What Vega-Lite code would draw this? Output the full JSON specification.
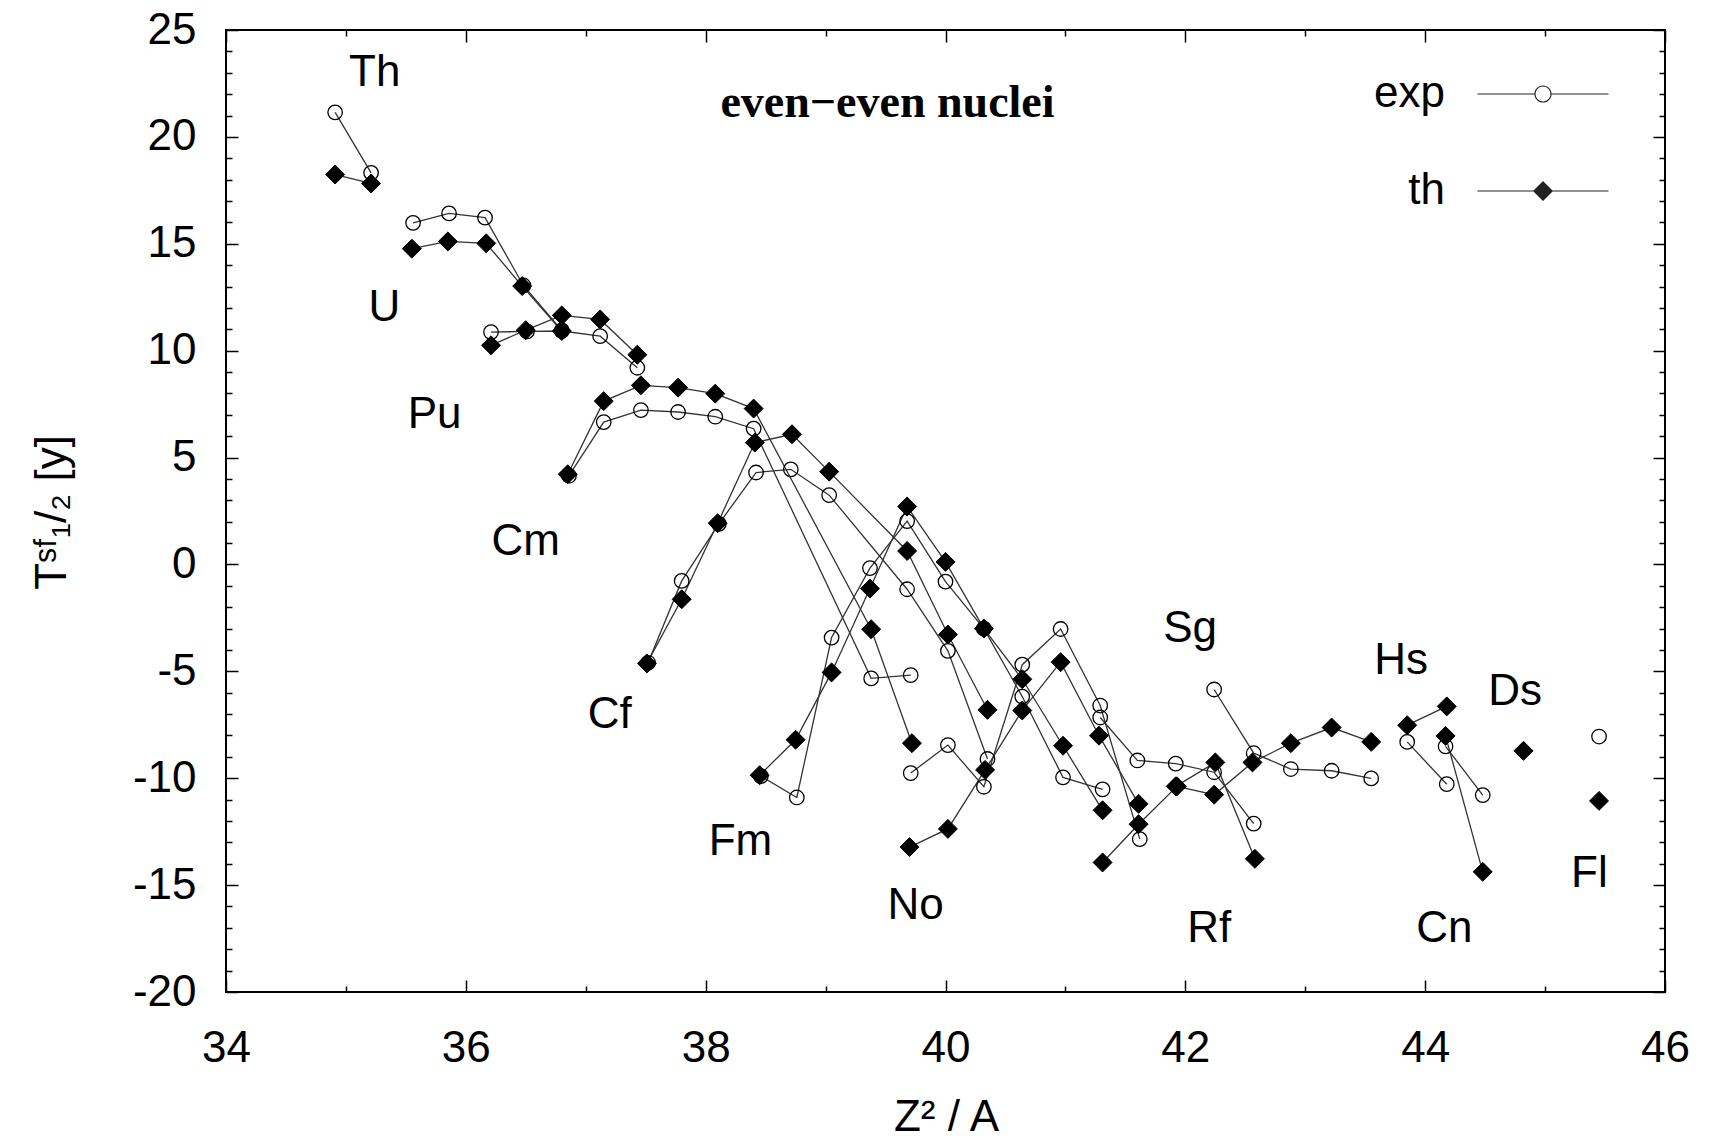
{
  "$schema": "https://vega.github.io/schema/vega-lite/v6.json",
  "width": 1439,
  "height": 962,
  "autosize": "none",
  "padding": {"left": 226, "top": 30, "right": 44, "bottom": 150},
  "background": "white",
  "title": {"text": "even−even nuclei", "font": "Liberation Serif", "fontWeight": "bold", "fontSize": 46, "color": "black", "anchor": "middle", "frame": "group", "baseline": "alphabetic", "offset": -87, "dx": -58, "dy": 68},
  "config": {
    "view": {"stroke": "black", "strokeWidth": 2},
    "axis": {"domain": false, "grid": false, "tickColor": "black", "tickWidth": 1.5, "labelFont": "Liberation Sans", "labelFontSize": 44, "labelColor": "black", "titleFont": "Liberation Sans", "titleFontSize": 44, "titleFontWeight": "normal", "titleColor": "black", "labelFlush": false, "labelOverlap": false}
  },
  "datasets": {
    "pts": [
      {"el":"Th","type":"exp","x":34.91,"y":21.15},{"el":"Th","type":"exp","x":35.21,"y":18.32},
      {"el":"U","type":"exp","x":35.56,"y":15.98},{"el":"U","type":"exp","x":35.86,"y":16.42},{"el":"U","type":"exp","x":36.16,"y":16.22},{"el":"U","type":"exp","x":36.48,"y":13.05},{"el":"U","type":"exp","x":36.80,"y":10.95},
      {"el":"Pu","type":"exp","x":36.21,"y":10.87},{"el":"Pu","type":"exp","x":36.51,"y":10.9},{"el":"Pu","type":"exp","x":36.80,"y":10.92},{"el":"Pu","type":"exp","x":37.12,"y":10.68},{"el":"Pu","type":"exp","x":37.43,"y":9.2},
      {"el":"Cm","type":"exp","x":36.86,"y":4.15},{"el":"Cm","type":"exp","x":37.15,"y":6.66},{"el":"Cm","type":"exp","x":37.46,"y":7.22},{"el":"Cm","type":"exp","x":37.77,"y":7.13},{"el":"Cm","type":"exp","x":38.08,"y":6.91},{"el":"Cm","type":"exp","x":38.40,"y":6.35},{"el":"Cm","type":"exp","x":39.38,"y":-5.33},{"el":"Cm","type":"exp","x":39.71,"y":-5.18},
      {"el":"Cf","type":"exp","x":37.52,"y":-4.6},{"el":"Cf","type":"exp","x":37.80,"y":-0.77},{"el":"Cf","type":"exp","x":38.11,"y":1.9},{"el":"Cf","type":"exp","x":38.42,"y":4.3},{"el":"Cf","type":"exp","x":38.71,"y":4.45},{"el":"Cf","type":"exp","x":39.03,"y":3.24},{"el":"Cf","type":"exp","x":39.68,"y":-1.16},{"el":"Cf","type":"exp","x":40.02,"y":-4.04},{"el":"Cf","type":"exp","x":40.35,"y":-9.1},
      {"el":"Fm","type":"exp","x":38.46,"y":-9.9},{"el":"Fm","type":"exp","x":38.76,"y":-10.9},{"el":"Fm","type":"exp","x":39.05,"y":-3.42},{"el":"Fm","type":"exp","x":39.37,"y":-0.17},{"el":"Fm","type":"exp","x":39.68,"y":2.03},{"el":"Fm","type":"exp","x":40.0,"y":-0.8},{"el":"Fm","type":"exp","x":40.32,"y":-3.0},{"el":"Fm","type":"exp","x":40.64,"y":-6.18},{"el":"Fm","type":"exp","x":40.98,"y":-9.96},{"el":"Fm","type":"exp","x":41.31,"y":-10.52},
      {"el":"No","type":"exp","x":39.71,"y":-9.76},{"el":"No","type":"exp","x":40.02,"y":-8.45},{"el":"No","type":"exp","x":40.32,"y":-10.4},{"el":"No","type":"exp","x":40.64,"y":-4.69},{"el":"No","type":"exp","x":40.96,"y":-3.02},{"el":"No","type":"exp","x":41.29,"y":-6.6},{"el":"No","type":"exp","x":41.62,"y":-12.85},
      {"el":"Rf","type":"exp","x":41.29,"y":-7.16},{"el":"Rf","type":"exp","x":41.60,"y":-9.17},{"el":"Rf","type":"exp","x":41.92,"y":-9.32},{"el":"Rf","type":"exp","x":42.24,"y":-9.72},{"el":"Rf","type":"exp","x":42.57,"y":-12.12},
      {"el":"Sg","type":"exp","x":42.24,"y":-5.85},{"el":"Sg","type":"exp","x":42.57,"y":-8.83},{"el":"Sg","type":"exp","x":42.88,"y":-9.57},{"el":"Sg","type":"exp","x":43.22,"y":-9.65},{"el":"Sg","type":"exp","x":43.55,"y":-10.01},
      {"el":"Hs","type":"exp","x":43.85,"y":-8.3},{"el":"Hs","type":"exp","x":44.18,"y":-10.28},
      {"el":"Cn","type":"exp","x":44.17,"y":-8.51},{"el":"Cn","type":"exp","x":44.48,"y":-10.79},
      {"el":"Fl","type":"exp","x":45.45,"y":-8.05},
      {"el":"Th","type":"th","x":34.91,"y":18.24},{"el":"Th","type":"th","x":35.21,"y":17.82},
      {"el":"U","type":"th","x":35.55,"y":14.77},{"el":"U","type":"th","x":35.85,"y":15.11},{"el":"U","type":"th","x":36.17,"y":15.02},{"el":"U","type":"th","x":36.47,"y":13.02},{"el":"U","type":"th","x":36.80,"y":10.92},
      {"el":"Pu","type":"th","x":36.21,"y":10.25},{"el":"Pu","type":"th","x":36.50,"y":10.96},{"el":"Pu","type":"th","x":36.80,"y":11.65},{"el":"Pu","type":"th","x":37.12,"y":11.46},{"el":"Pu","type":"th","x":37.43,"y":9.81},
      {"el":"Cm","type":"th","x":36.85,"y":4.22},{"el":"Cm","type":"th","x":37.15,"y":7.64},{"el":"Cm","type":"th","x":37.46,"y":8.38},{"el":"Cm","type":"th","x":37.77,"y":8.27},{"el":"Cm","type":"th","x":38.08,"y":7.99},{"el":"Cm","type":"th","x":38.40,"y":7.29},{"el":"Cm","type":"th","x":39.38,"y":-3.03},{"el":"Cm","type":"th","x":39.72,"y":-8.36},
      {"el":"Cf","type":"th","x":37.51,"y":-4.63},{"el":"Cf","type":"th","x":37.80,"y":-1.63},{"el":"Cf","type":"th","x":38.10,"y":1.93},{"el":"Cf","type":"th","x":38.41,"y":5.7},{"el":"Cf","type":"th","x":38.72,"y":6.09},{"el":"Cf","type":"th","x":39.03,"y":4.34},{"el":"Cf","type":"th","x":39.68,"y":0.63},{"el":"Cf","type":"th","x":40.02,"y":-3.28},{"el":"Cf","type":"th","x":40.35,"y":-6.8},
      {"el":"Fm","type":"th","x":38.45,"y":-9.86},{"el":"Fm","type":"th","x":38.75,"y":-8.2},{"el":"Fm","type":"th","x":39.05,"y":-5.05},{"el":"Fm","type":"th","x":39.37,"y":-1.13},{"el":"Fm","type":"th","x":39.68,"y":2.71},{"el":"Fm","type":"th","x":40.0,"y":0.12},{"el":"Fm","type":"th","x":40.32,"y":-3.0},{"el":"Fm","type":"th","x":40.64,"y":-5.37},{"el":"Fm","type":"th","x":40.98,"y":-8.48},{"el":"Fm","type":"th","x":41.31,"y":-11.5},
      {"el":"No","type":"th","x":39.70,"y":-13.22},{"el":"No","type":"th","x":40.02,"y":-12.37},{"el":"No","type":"th","x":40.33,"y":-9.61},{"el":"No","type":"th","x":40.64,"y":-6.83},{"el":"No","type":"th","x":40.96,"y":-4.57},{"el":"No","type":"th","x":41.28,"y":-8.01},{"el":"No","type":"th","x":41.61,"y":-11.2},
      {"el":"Rf","type":"th","x":41.92,"y":-10.38},{"el":"Rf","type":"th","x":42.25,"y":-9.26},{"el":"Rf","type":"th","x":42.58,"y":-13.77},
      {"el":"Sg","type":"th","x":41.31,"y":-13.94},{"el":"Sg","type":"th","x":41.61,"y":-12.15},{"el":"Sg","type":"th","x":41.93,"y":-10.38},{"el":"Sg","type":"th","x":42.24,"y":-10.77},{"el":"Sg","type":"th","x":42.56,"y":-9.26},{"el":"Sg","type":"th","x":42.88,"y":-8.36},{"el":"Sg","type":"th","x":43.22,"y":-7.63},{"el":"Sg","type":"th","x":43.55,"y":-8.3},
      {"el":"Hs","type":"th","x":43.85,"y":-7.52},{"el":"Hs","type":"th","x":44.18,"y":-6.64},
      {"el":"Ds","type":"th","x":44.82,"y":-8.72},
      {"el":"Cn","type":"th","x":44.17,"y":-8.02},{"el":"Cn","type":"th","x":44.48,"y":-14.38},
      {"el":"Fl","type":"th","x":45.45,"y":-11.06}
    ],
    "lbl": [
      {"name":"Th","lx":35.24,"ly":23.0},{"name":"U","lx":35.32,"ly":12.0},{"name":"Pu","lx":35.74,"ly":7.0},
      {"name":"Cm","lx":36.5,"ly":1.05},{"name":"Cf","lx":37.2,"ly":-7.05},{"name":"Fm","lx":38.29,"ly":-12.96},
      {"name":"No","lx":39.75,"ly":-15.97},{"name":"Sg","lx":42.04,"ly":-3.03},{"name":"Rf","lx":42.2,"ly":-17.04},
      {"name":"Hs","lx":43.8,"ly":-4.5},{"name":"Cn","lx":44.16,"ly":-17.04},{"name":"Ds","lx":44.75,"ly":-5.98},
      {"name":"Fl","lx":45.37,"ly":-14.49}
    ]
  },
  "layer": [
    {
      "data": {"name": "pts"},
      "mark": {"type": "line", "stroke": "#333333", "strokeWidth": 1.3, "clip": true},
      "encoding": {
        "x": {"field": "x", "type": "quantitative", "scale": {"domain": [34, 46], "nice": false, "zero": false},
              "axis": {"orient": "bottom", "values": [34,36,38,40,42,44,46], "tickSize": -12, "labelPadding": 46, "title": "Z² / A", "titleX": 720, "titleY": 125, "titleBaseline": "middle", "titleAlign": "center"}},
        "y": {"field": "y", "type": "quantitative", "scale": {"domain": [-20, 25], "nice": false, "zero": false},
              "axis": {"orient": "left", "values": [-20,-15,-10,-5,0,5,10,15,20,25], "tickSize": -12, "labelPadding": 42, "labelExpr": "replace(datum.label, '−', '-')", "title": "Tˢᶠ₁/₂  [y]", "titleX": -174, "titleY": 482, "titleAngle": -90, "titleBaseline": "middle", "titleAlign": "center"}},
        "detail": [{"field": "el"}, {"field": "type"}]
      }
    },
    {
      "data": {"name": "pts"},
      "transform": [{"filter": "datum.type === 'exp'"}],
      "mark": {"type": "point", "shape": "circle", "filled": false, "stroke": "black", "strokeWidth": 1.3, "size": 210, "opacity": 1},
      "encoding": {
        "x": {"field": "x", "type": "quantitative", "axis": {"orient": "top", "values": [34,36,38,40,42,44,46], "tickSize": -12, "labels": false, "title": null}},
        "y": {"field": "y", "type": "quantitative", "axis": {"orient": "right", "values": [-20,-15,-10,-5,0,5,10,15,20,25], "tickSize": -12, "labels": false, "title": null}}
      }
    },
    {
      "data": {"name": "pts"},
      "transform": [{"filter": "datum.type === 'th'"}],
      "mark": {"type": "point", "shape": "diamond", "filled": true, "fill": "black", "stroke": "black", "strokeWidth": 1, "size": 360, "opacity": 1},
      "encoding": {
        "x": {"field": "x", "type": "quantitative", "axis": {"orient": "bottom", "values": [35,37,39,41,43,45], "tickSize": -6, "labels": false, "title": null}},
        "y": {"field": "y", "type": "quantitative", "axis": {"orient": "left", "values": [-19,-18,-17,-16,-14,-13,-12,-11,-9,-8,-7,-6,-4,-3,-2,-1,1,2,3,4,6,7,8,9,11,12,13,14,16,17,18,19,21,22,23,24], "tickSize": -6, "labels": false, "title": null}}
      }
    },
    {
      "data": {"name": "lbl"},
      "mark": {"type": "text", "font": "Liberation Sans", "fontSize": 44, "align": "center", "baseline": "middle", "color": "black"},
      "encoding": {
        "x": {"field": "lx", "type": "quantitative", "axis": {"orient": "top", "values": [35,37,39,41,43,45], "tickSize": -6, "labels": false, "title": null}},
        "y": {"field": "ly", "type": "quantitative", "axis": {"orient": "right", "values": [-19,-18,-17,-16,-14,-13,-12,-11,-9,-8,-7,-6,-4,-3,-2,-1,1,2,3,4,6,7,8,9,11,12,13,14,16,17,18,19,21,22,23,24], "tickSize": -6, "labels": false, "title": null}},
        "text": {"field": "name"}
      }
    },
    {
      "data": {"name": "pts"},
      "transform": [{"filter": "datum.x < 0"}],
      "mark": {"type": "point", "filled": true, "color": "#222222", "size": 400, "opacity": 1},
      "encoding": {
        "x": {"field": "x", "type": "quantitative", "axis": null},
        "y": {"field": "y", "type": "quantitative", "axis": null},
        "shape": {"field": "type", "type": "nominal",
          "scale": {"domain": ["exp", "th"], "range": [
            "M1,-0.06L6.69,-0.06L6.69,0.06L1,0.06ZM8.41,-0.06L14.1,-0.06L14.1,0.06L8.41,0.06ZM8.41,0A0.86,0.86,0,1,1,6.69,0A0.86,0.86,0,1,1,8.41,0ZM8.29,0A0.74,0.74,0,1,0,6.81,0A0.74,0.74,0,1,0,8.29,0Z",
            "M1,-0.06L14.1,-0.06L14.1,0.06L1,0.06ZM7.55,-1L8.55,0L7.55,1L6.55,0Z"]},
          "legend": {"title": null, "orient": "none", "legendX": 1219.5, "legendY": 42, "padding": 0, "labelFont": "Liberation Sans", "labelFontSize": 44, "labelColor": "black", "labelAlign": "right", "labelOffset": -44.5, "labelLimit": 400, "rowPadding": 53, "symbolSize": 400}}
      }
    }
  ],
  "resolve": {"axis": {"x": "independent", "y": "independent"}}
}
